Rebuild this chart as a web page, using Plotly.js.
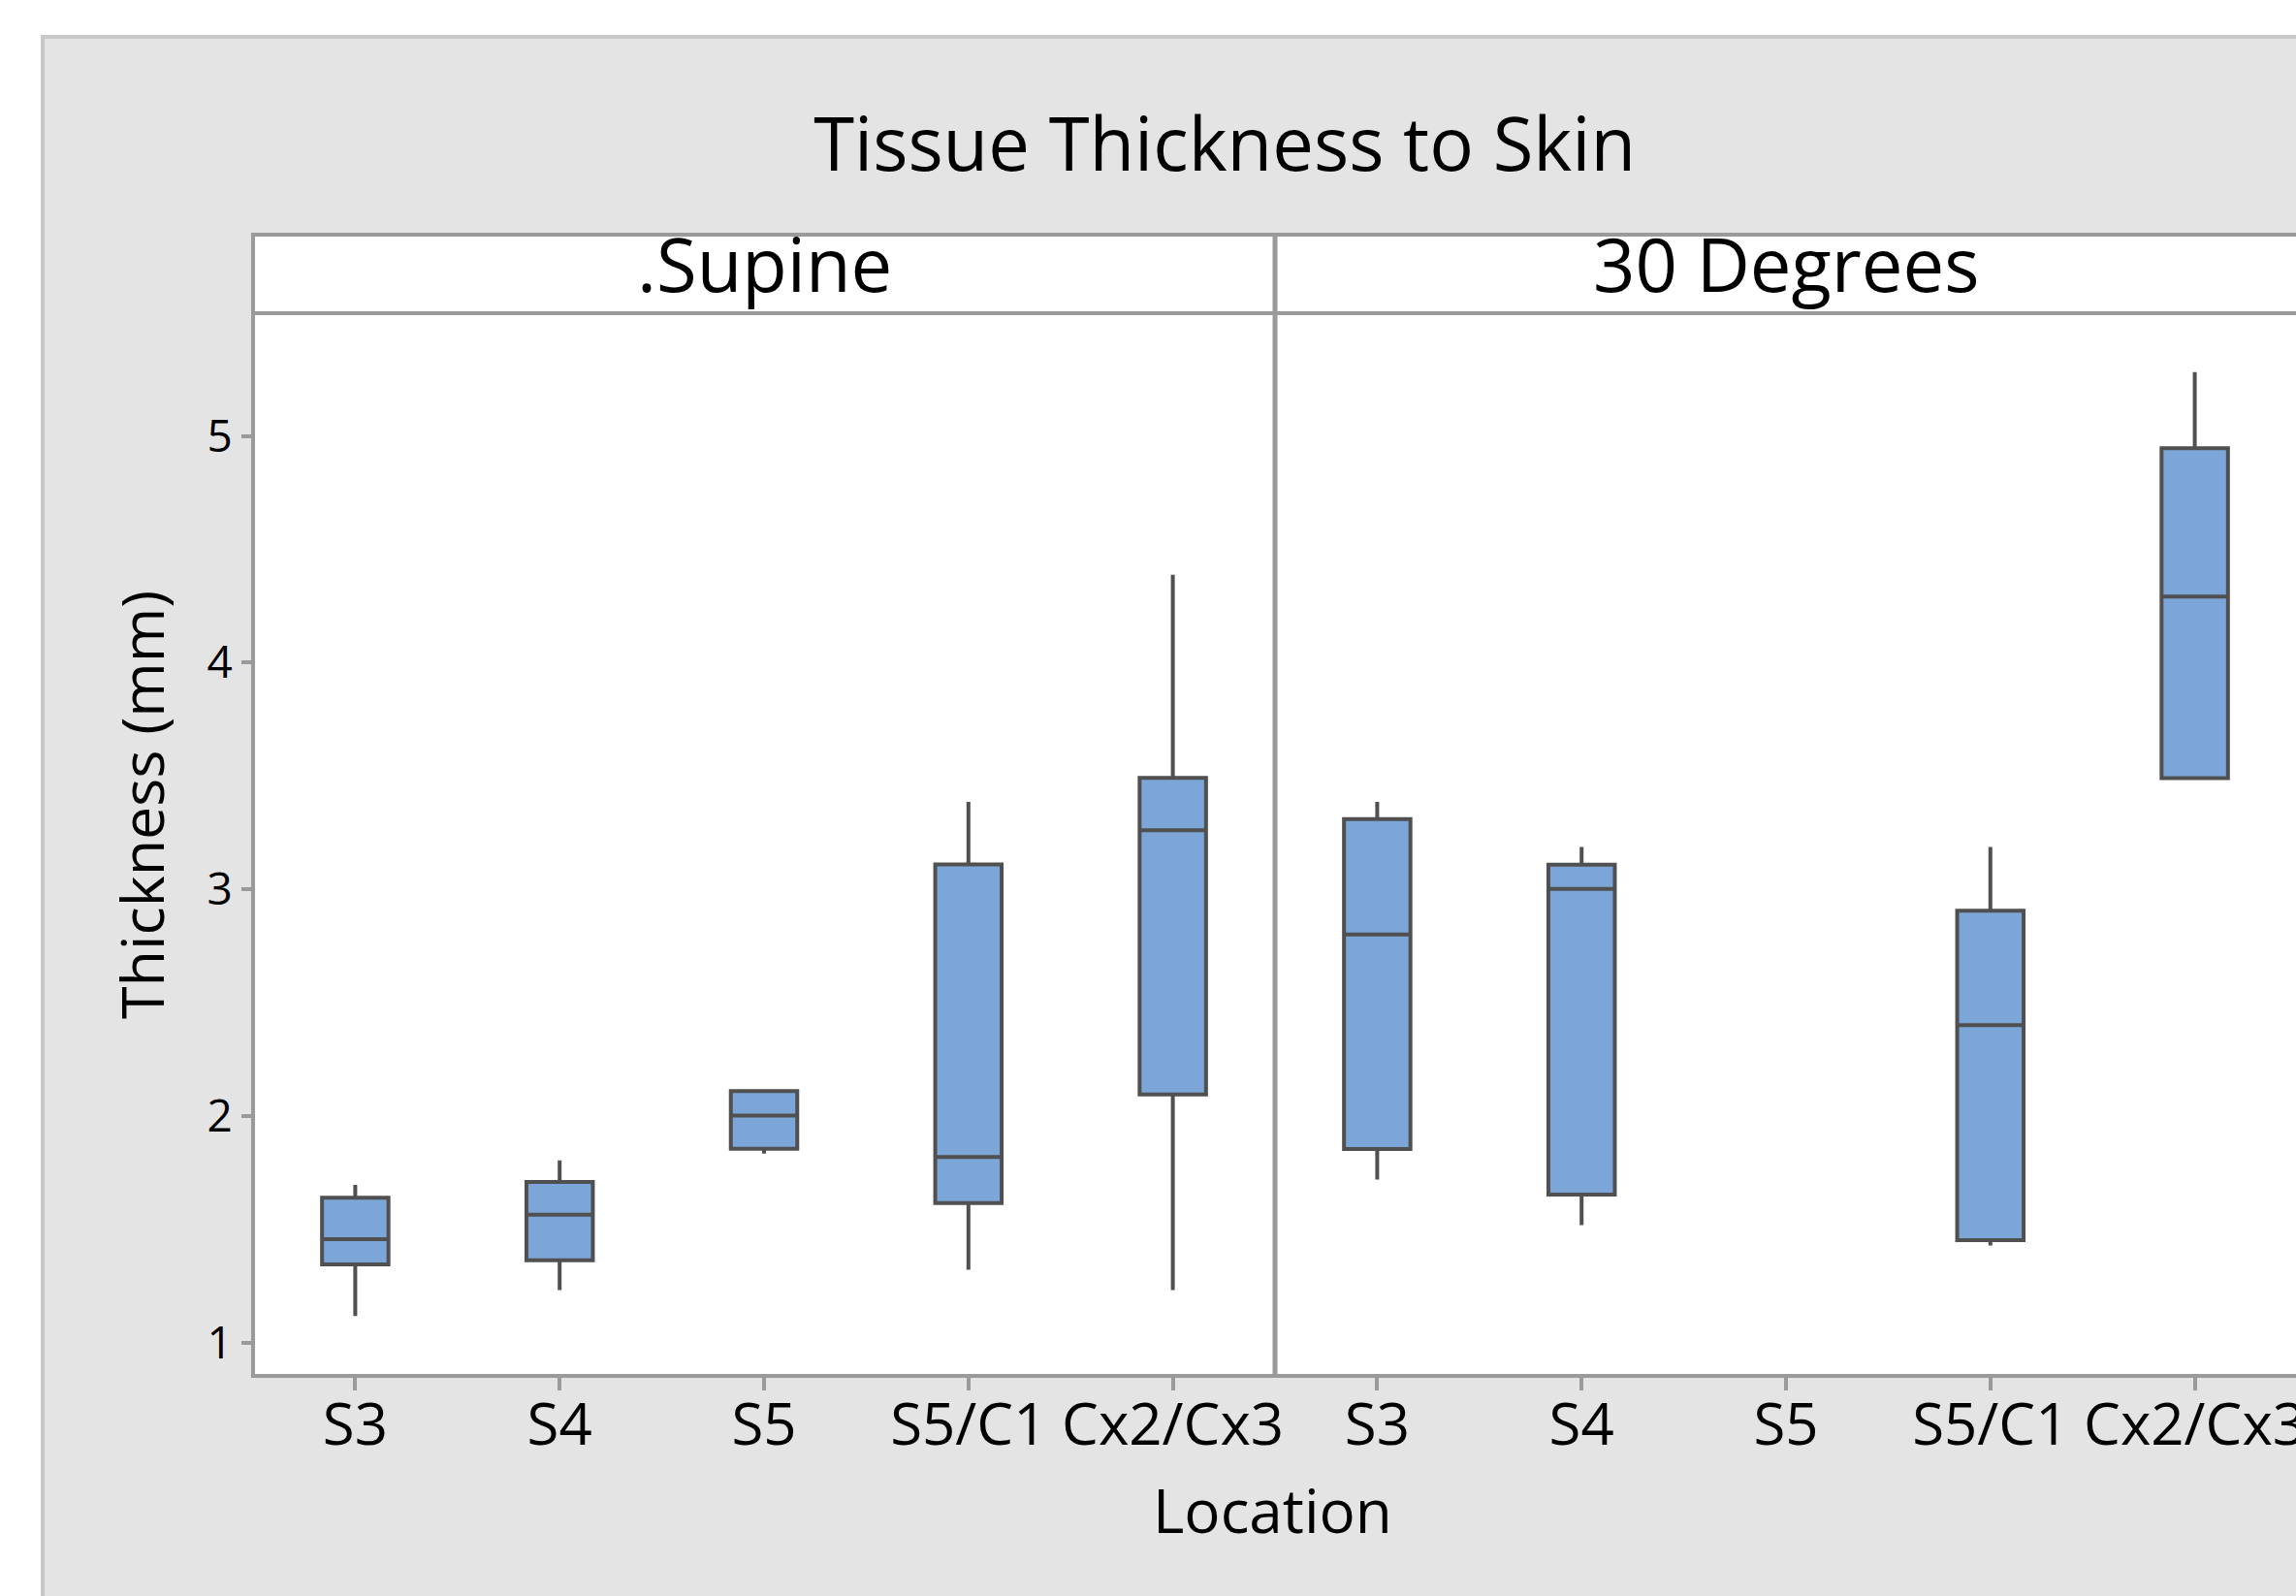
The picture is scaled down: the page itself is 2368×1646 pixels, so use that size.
<!DOCTYPE html>
<html>
<head>
<meta charset="utf-8">
<script src="https://cdn.plot.ly/plotly-3.0.1.min.js"></script>
<style>
  html, body { margin: 0; padding: 0; background: #ffffff; overflow: hidden; width: 2368px; height: 1646px; }
  #wrap { position: absolute; left: 42px; top: 36px; border: 4px solid #c8c8c8; }
</style>
</head>
<body>
<div id="wrap"><div id="chart"></div></div>
<script>
// ---- data ----
const locations = ['S3', 'S4', 'S5', 'S5/C1', 'Cx2/Cx3'];

// .Supine panel
const supineLocations = ['S3', 'S4', 'S5', 'S5/C1', 'Cx2/Cx3'];
const supineLow    = [1.117, 1.231, 1.834, 1.321, 1.231];
const supineQ1     = [1.345, 1.363, 1.855, 1.615, 2.095];
const supineMedian = [1.456, 1.564, 2.002, 1.819, 3.260];
const supineQ3     = [1.639, 1.708, 2.110, 3.110, 3.491];
const supineHigh   = [1.696, 1.804, 2.110, 3.386, 4.388];

// 30 Degrees panel (no S5 data)
const deg30Locations = ['S3', 'S4', 'S5/C1', 'Cx2/Cx3'];
const deg30Low    = [1.719, 1.518, 1.428, 3.490];
const deg30Q1     = [1.854, 1.653, 1.452, 3.490];
const deg30Median = [2.800, 3.001, 2.400, 4.291];
const deg30Q3     = [3.310, 3.109, 2.905, 4.946];
const deg30High   = [3.385, 3.187, 3.187, 5.282];

const yTicks = [1, 2, 3, 4, 5];
const panelNames = ['.Supine', '30 Degrees'];
const chartTitle = 'Tissue Thickness to Skin';
const xTitle = 'Location';
const yTitle = 'Thickness (mm)';

// ---- styling ----
const FONT = 'Open Sans, Noto Sans, DejaVu Sans, sans-serif';
const boxFill = '#7da6d8';
const boxLine = '#505050';
const frame = '#9a9a9a';

const W = 2442, H = 1700;
const M = { l: 215, r: 119, t: 283, b: 321 };
const plotH = H - M.t - M.b;           // 1096
const stripTop = 1 + 81 / plotH;        // strip header height in paper units

function boxTrace(xs, lo, q1, med, q3, hi, xa) {
  return {
    type: 'box',
    x: xs, lowerfence: lo, q1: q1, median: med, q3: q3, upperfence: hi,
    xaxis: xa, yaxis: 'y',
    boxpoints: false,
    width: 0.325,
    whiskerwidth: 0,
    fillcolor: boxFill,
    line: { color: boxLine, width: 4 },
    hoverinfo: 'skip',
    showlegend: false
  };
}

const data = [
  boxTrace(supineLocations, supineLow, supineQ1, supineMedian, supineQ3, supineHigh, 'x'),
  boxTrace(deg30Locations, deg30Low, deg30Q1, deg30Median, deg30Q3, deg30High, 'x2')
];

const xCommon = {
  type: 'category',
  categoryorder: 'array',
  categoryarray: locations,
  range: [-0.5, 4.5],
  showgrid: false, zeroline: false, showline: false,
  ticks: 'outside', ticklen: 14, tickwidth: 4, tickcolor: frame,
  ticklabelstandoff: -16,
  tickfont: { family: FONT, size: 60, color: '#000000' },
  anchor: 'y',
  fixedrange: true
};

const layout = {
  width: W, height: H,
  margin: M,
  paper_bgcolor: '#e4e4e4',
  plot_bgcolor: '#ffffff',
  font: { family: FONT, color: '#000000' },
  title: {
    text: chartTitle,
    font: { family: FONT, size: 76, color: '#000000' },
    xref: 'container', x: 0.4984, xanchor: 'center',
    yref: 'container', y: 1 - 109 / H, yanchor: 'middle'
  },
  xaxis: Object.assign({}, xCommon, { domain: [0, 0.5] }),
  xaxis2: Object.assign({}, xCommon, { domain: [0.5, 1] }),
  yaxis: {
    range: [0.8528, 5.5417],
    tickvals: yTicks,
    showgrid: false, zeroline: false, showline: false,
    ticks: 'outside', ticklen: 11, tickwidth: 4, tickcolor: frame,
    tickfont: { family: FONT, size: 46, color: '#000000' },
    fixedrange: true
  },
  showlegend: false,
  hovermode: false,
  shapes: [
    // strip header background
    { type: 'rect', xref: 'paper', yref: 'paper', x0: 0, x1: 1.2, y0: 1, y1: stripTop,
      fillcolor: '#ffffff', line: { width: 0 }, layer: 'below' },
    // strip top & bottom lines
    { type: 'line', xref: 'paper', yref: 'paper', x0: -0.001, x1: 1.2, y0: stripTop, y1: stripTop,
      line: { color: frame, width: 4 } },
    { type: 'line', xref: 'paper', yref: 'paper', x0: 0, x1: 1.2, y0: 1, y1: 1,
      line: { color: frame, width: 4 } },
    // left frame, panel divider
    { type: 'line', xref: 'paper', yref: 'paper', x0: 0, x1: 0, y0: 0, y1: stripTop,
      line: { color: frame, width: 4 } },
    { type: 'line', xref: 'paper', yref: 'paper', x0: 0.5, x1: 0.5, y0: 0, y1: stripTop,
      line: { color: frame, width: 5 } },
    // bottom axis line
    { type: 'line', xref: 'paper', yref: 'paper', x0: -0.001, x1: 1.2, y0: 0, y1: 0,
      line: { color: frame, width: 4 } }
  ],
  annotations: [
    { text: panelNames[0], xref: 'paper', yref: 'paper', x: 0.25, y: 1 + (323 - 272) / plotH,
      xanchor: 'center', yanchor: 'middle', showarrow: false,
      font: { family: FONT, size: 76, color: '#000000' } },
    { text: panelNames[1], xref: 'paper', yref: 'paper', x: 0.75, y: 1 + (323 - 272) / plotH,
      xanchor: 'center', yanchor: 'middle', showarrow: false,
      font: { family: FONT, size: 76, color: '#000000' } },
    { text: xTitle, xref: 'paper', yref: 'paper', x: (1312 - 261) / 2108, y: -(1557 - 1419) / plotH,
      xanchor: 'center', yanchor: 'middle', showarrow: false,
      font: { family: FONT, size: 62, color: '#000000' } },
    { text: yTitle, xref: 'paper', yref: 'paper', x: -(261 - 145) / 2108, y: (1419 - 830) / plotH,
      xanchor: 'center', yanchor: 'middle', showarrow: false, textangle: -90,
      font: { family: FONT, size: 61, color: '#000000' } }
  ]
};

Plotly.newPlot('chart', data, layout, { staticPlot: true, displayModeBar: false });
</script>
</body>
</html>
